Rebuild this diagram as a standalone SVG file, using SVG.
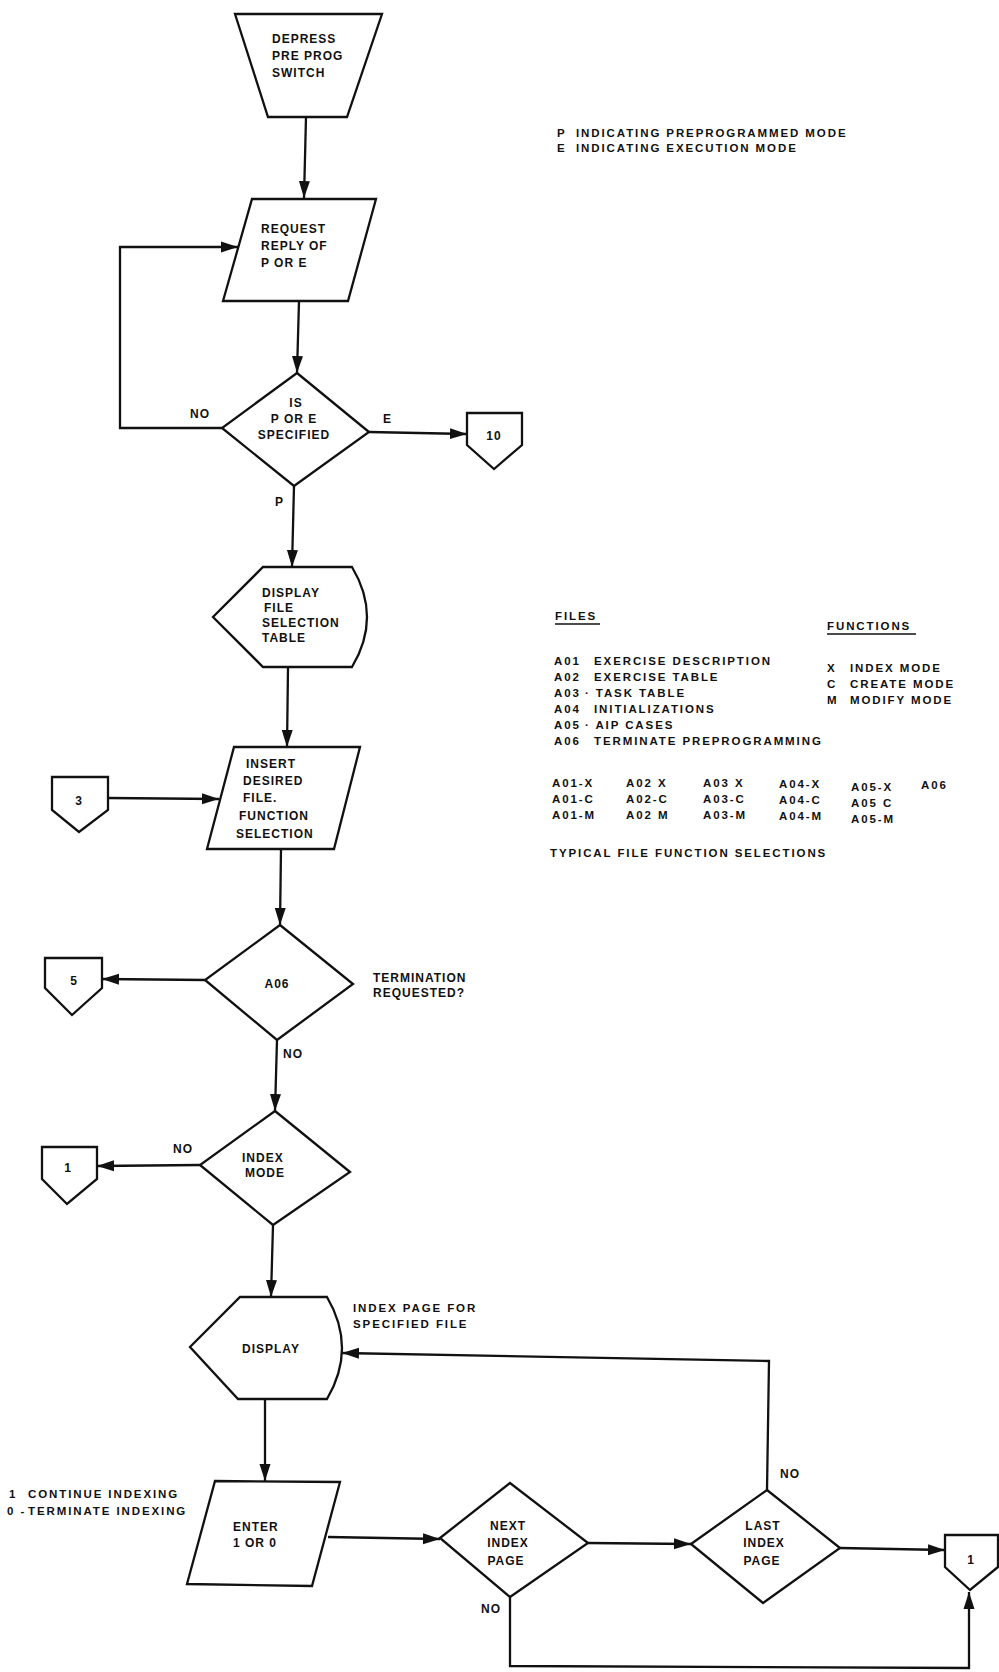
<svg xmlns="http://www.w3.org/2000/svg" width="999" height="1672" viewBox="0 0 999 1672">
<defs>
<marker id="ah" markerUnits="userSpaceOnUse" markerWidth="18" markerHeight="12" refX="17" refY="6" orient="auto">
<path d="M0,0.5 L17,6 L0,11.5 Z" fill="#111"/>
</marker>
<style>
.sh{fill:#fff;stroke:#111;stroke-width:2.3;stroke-linejoin:miter}
.cn{fill:none;stroke:#111;stroke-width:2.3;marker-end:url(#ah)}
.ln{fill:none;stroke:#111;stroke-width:2.3}
.ul{fill:none;stroke:#111;stroke-width:1.5}
text{font-family:"Liberation Sans",Arial,sans-serif;font-weight:bold;fill:#111}
.t{font-size:12px;letter-spacing:1px}
.s{font-size:11.5px;letter-spacing:1.9px}
.m{text-anchor:middle}
</style>
</defs>
<rect width="999" height="1672" fill="#fff"/>

<g id="connectors">
<line class="cn" x1="306" y1="117" x2="304" y2="198"/>
<line class="cn" x1="299" y1="301" x2="297" y2="373"/>
<polyline class="cn" points="222,428 120,428 120,247 238,247"/>
<line class="cn" x1="369" y1="432" x2="467" y2="434"/>
<line class="cn" x1="294" y1="486" x2="292" y2="567"/>
<line class="cn" x1="288" y1="667" x2="287" y2="747"/>
<line class="cn" x1="108" y1="798" x2="219" y2="799"/>
<line class="cn" x1="281" y1="849" x2="280" y2="925"/>
<line class="cn" x1="205" y1="980" x2="102" y2="979"/>
<line class="cn" x1="277" y1="1040" x2="275" y2="1111"/>
<line class="cn" x1="200" y1="1165" x2="97" y2="1166"/>
<line class="cn" x1="273" y1="1225" x2="271" y2="1297"/>
<polyline class="cn" points="767,1490 769,1361 342,1353"/>
<line class="cn" x1="265" y1="1399" x2="265" y2="1481"/>
<line class="cn" x1="328" y1="1537" x2="440" y2="1539"/>
<line class="cn" x1="588" y1="1543" x2="691" y2="1544"/>
<line class="cn" x1="840" y1="1548" x2="945" y2="1550"/>
<polyline class="cn" points="510,1597 510,1666 969,1668 969,1592"/>
</g>

<g id="depress">
<polygon class="sh" points="235,14 382,14 347,117 268,117"/>
<text class="t" x="272" y="43">DEPRESS</text>
<text class="t" x="272" y="60">PRE PROG</text>
<text class="t" x="272" y="77">SWITCH</text>
</g>

<g id="request">
<polygon class="sh" points="252,199 376,199 348,301 223,301"/>
<text class="t" x="261" y="233">REQUEST</text>
<text class="t" x="261" y="250">REPLY OF</text>
<text class="t" x="261" y="267">P OR E</text>
</g>

<g id="is-p-or-e">
<polygon class="sh" points="297,373 369,432 294,486 222,428"/>
<text class="t m" x="296" y="407">IS</text>
<text class="t m" x="294" y="423">P OR E</text>
<text class="t m" x="294" y="439">SPECIFIED</text>
</g>

<g id="conn10">
<polygon class="sh" points="467,413 522,413 522,445 494,469 467,445"/>
<text class="t m" x="494" y="440">10</text>
</g>

<g id="display-file">
<path class="sh" d="M263,567 L352,567 Q382,617 352,667 L263,667 L213,617 Z"/>
<text class="t" x="262" y="597">DISPLAY</text>
<text class="t" x="264" y="612">FILE</text>
<text class="t" x="262" y="627">SELECTION</text>
<text class="t" x="262" y="642">TABLE</text>
</g>

<g id="insert">
<polygon class="sh" points="234,747 360,747 334,849 207,849"/>
<text class="t" x="246" y="768">INSERT</text>
<text class="t" x="243" y="785">DESIRED</text>
<text class="t" x="243" y="802">FILE.</text>
<text class="t" x="239" y="820">FUNCTION</text>
<text class="t" x="236" y="838">SELECTION</text>
</g>

<g id="conn3">
<polygon class="sh" points="52,777 108,777 108,810 79,832 52,810"/>
<text class="t m" x="79" y="805">3</text>
</g>

<g id="a06">
<polygon class="sh" points="280,925 353,984 277,1040 205,980"/>
<text class="t m" x="277" y="988">A06</text>
</g>

<g id="conn5">
<polygon class="sh" points="45,958 102,958 102,988 72,1015 45,988"/>
<text class="t m" x="74" y="985">5</text>
</g>

<g id="index-mode">
<polygon class="sh" points="275,1111 350,1172 273,1225 200,1165"/>
<text class="t" x="242" y="1162">INDEX</text>
<text class="t" x="245" y="1177">MODE</text>
</g>

<g id="conn1-left">
<polygon class="sh" points="42,1147 97,1147 97,1179 67,1204 42,1179"/>
<text class="t m" x="68" y="1172">1</text>
</g>

<g id="display-index">
<path class="sh" d="M240,1297 L327,1297 Q357,1348 327,1399 L238,1399 L190,1347 Z"/>
<text class="t" x="242" y="1353">DISPLAY</text>
</g>

<g id="enter">
<polygon class="sh" points="215,1481 340,1482 312,1586 187,1584"/>
<text class="t" x="233" y="1531">ENTER</text>
<text class="t" x="233" y="1547">1 OR 0</text>
</g>

<g id="next-index">
<polygon class="sh" points="440,1538 510,1483 588,1543 510,1597"/>
<text class="t m" x="508" y="1530">NEXT</text>
<text class="t m" x="508" y="1547">INDEX</text>
<text class="t m" x="506" y="1565">PAGE</text>
</g>

<g id="last-index">
<polygon class="sh" points="691,1544 767,1490 840,1548 763,1603"/>
<text class="t m" x="763" y="1530">LAST</text>
<text class="t m" x="764" y="1547">INDEX</text>
<text class="t m" x="762" y="1565">PAGE</text>
</g>

<g id="conn1-right">
<polygon class="sh" points="945,1535 998,1535 998,1567 970,1590 945,1567"/>
<text class="t m" x="971" y="1564">1</text>
</g>

<g id="labels">
<text class="t" x="190" y="418">NO</text>
<text class="t" x="383" y="423">E</text>
<text class="t" x="275" y="506">P</text>
<text class="t" x="373" y="982">TERMINATION</text>
<text class="t" x="373" y="997">REQUESTED?</text>
<text class="t" x="283" y="1058">NO</text>
<text class="t" x="173" y="1153">NO</text>
<text class="s" x="353" y="1312">INDEX PAGE FOR</text>
<text class="s" x="353" y="1328">SPECIFIED FILE</text>
<text class="t" x="780" y="1478">NO</text>
<text class="t" x="481" y="1613">NO</text>
<text class="s" x="9" y="1498">1</text>
<text class="s" x="28" y="1498">CONTINUE INDEXING</text>
<text class="s" x="7" y="1515">0 -</text>
<text class="s" x="28" y="1515">TERMINATE INDEXING</text>
</g>

<g id="legend-modes">
<text class="s" x="557" y="137">P</text>
<text class="s" x="576" y="137">INDICATING PREPROGRAMMED MODE</text>
<text class="s" x="557" y="152">E</text>
<text class="s" x="576" y="152">INDICATING EXECUTION MODE</text>
</g>

<g id="legend-files">
<text class="s" x="555" y="620">FILES</text>
<line class="ul" x1="555" y1="624" x2="600" y2="624"/>
<text class="s" x="554" y="665">A01</text><text class="s" x="594" y="665">EXERCISE DESCRIPTION</text>
<text class="s" x="554" y="681">A02</text><text class="s" x="594" y="681">EXERCISE TABLE</text>
<text class="s" x="554" y="697">A03</text><text class="s" x="585" y="697">· TASK TABLE</text>
<text class="s" x="554" y="713">A04</text><text class="s" x="594" y="713">INITIALIZATIONS</text>
<text class="s" x="554" y="729">A05</text><text class="s" x="585" y="729">· AIP CASES</text>
<text class="s" x="554" y="745">A06</text><text class="s" x="594" y="745">TERMINATE PREPROGRAMMING</text>
</g>

<g id="legend-functions">
<text class="s" x="827" y="630">FUNCTIONS</text>
<line class="ul" x1="827" y1="634" x2="916" y2="634"/>
<text class="s" x="827" y="672">X</text><text class="s" x="850" y="672">INDEX MODE</text>
<text class="s" x="827" y="688">C</text><text class="s" x="850" y="688">CREATE MODE</text>
<text class="s" x="827" y="704">M</text><text class="s" x="850" y="704">MODIFY MODE</text>
</g>

<g id="legend-selections">
<text class="s" x="552" y="787">A01-X</text>
<text class="s" x="552" y="803">A01-C</text>
<text class="s" x="552" y="819">A01-M</text>
<text class="s" x="626" y="787">A02 X</text>
<text class="s" x="626" y="803">A02-C</text>
<text class="s" x="626" y="819">A02 M</text>
<text class="s" x="703" y="787">A03 X</text>
<text class="s" x="703" y="803">A03-C</text>
<text class="s" x="703" y="819">A03-M</text>
<text class="s" x="779" y="788">A04-X</text>
<text class="s" x="779" y="804">A04-C</text>
<text class="s" x="779" y="820">A04-M</text>
<text class="s" x="851" y="791">A05-X</text>
<text class="s" x="851" y="807">A05 C</text>
<text class="s" x="851" y="823">A05-M</text>
<text class="s" x="921" y="789">A06</text>
<text class="s" x="550" y="857">TYPICAL FILE FUNCTION SELECTIONS</text>
</g>
</svg>
